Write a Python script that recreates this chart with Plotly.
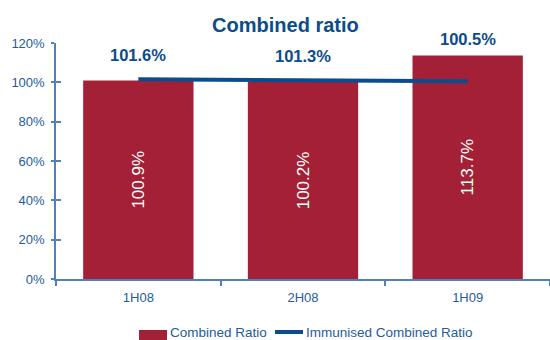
import plotly.graph_objects as go

periods = ["1H08", "2H08", "1H09"]
combined_ratio = [100.9, 100.2, 113.7]
immunised_ratio = [101.6, 101.3, 100.5]
series_names = ["Combined Ratio", "Immunised Combined Ratio"]

BAR_RED = "#A32036"
LINE_BLUE = "#0B4C8C"
AXIS_BLUE = "#4F82BC"
TEXT_BLUE = "#245C9C"
FONT = "Liberation Sans, Arial, sans-serif"

# plot area in pixels (used to place the hand-drawn legend)
W, H = 550, 340
M_L, M_R, M_T, M_B = 56, 0, 43, 61
PLOT_W = W - M_L - M_R
PLOT_H = H - M_T - M_B


def px_x(px):
    return (px - M_L) / PLOT_W


def px_y(py):
    return (H - M_B - py) / PLOT_H


fig = go.Figure()

fig.add_trace(go.Bar(
    x=periods, y=combined_ratio, name=series_names[0],
    marker=dict(color=BAR_RED, line=dict(width=0)),
    width=0.67,
    text=[f"{v:.1f}%" for v in combined_ratio],
    textposition="inside", insidetextanchor="middle", textangle=-90,
    textfont=dict(color="white", size=17, family=FONT),
    hoverinfo="skip", showlegend=False,
))

fig.add_trace(go.Scatter(
    x=periods, y=immunised_ratio, name=series_names[1],
    mode="lines", line=dict(color=LINE_BLUE, width=4),
    hoverinfo="skip", showlegend=False,
))

# invisible trace to activate the overlaid tick axis (crossing ticks)
fig.add_trace(go.Scatter(x=[periods[0]], y=[0], yaxis="y2", mode="markers",
                         marker=dict(opacity=0), showlegend=False,
                         hoverinfo="skip"))

# value labels for the immunised ratio, lifted above whichever mark is taller
for p, b, v in zip(periods, combined_ratio, immunised_ratio):
    top = max(b, v)
    fig.add_annotation(
        x=p, y=top, yref="y", text=f"<b>{v:.1f}%</b>", showarrow=False,
        yanchor="bottom", yshift=13 if top == v else 5,
        font=dict(color=LINE_BLUE, size=16.5, family=FONT),
    )

# legend: wide red key, thick blue line key, labels right after each key
legend_y = px_y(332.5)
fig.add_shape(type="rect", xref="paper", yref="paper",
              x0=px_x(139), x1=px_x(167), y0=px_y(340), y1=px_y(330),
              fillcolor=BAR_RED, line=dict(width=0))
fig.add_annotation(xref="paper", yref="paper", x=px_x(169), y=legend_y,
                   xanchor="left", yanchor="middle", showarrow=False,
                   text=series_names[0], borderpad=0,
                   font=dict(size=13.5, color=TEXT_BLUE, family=FONT))
fig.add_shape(type="line", xref="paper", yref="paper",
              x0=px_x(275), x1=px_x(303), y0=px_y(332), y1=px_y(332),
              line=dict(color=LINE_BLUE, width=4))
fig.add_annotation(xref="paper", yref="paper", x=px_x(305), y=legend_y,
                   xanchor="left", yanchor="middle", showarrow=False,
                   text=series_names[1], borderpad=0,
                   font=dict(size=13.5, color=TEXT_BLUE, family=FONT))

fig.update_layout(
    width=W, height=H,
    margin=dict(l=M_L, r=M_R, t=M_T, b=M_B, autoexpand=False),
    paper_bgcolor="white", plot_bgcolor="white",
    font=dict(family=FONT, color=TEXT_BLUE, size=13),
    title=dict(text="<b>Combined ratio</b>", x=0.519, xanchor="center",
               y=0.926, yanchor="middle",
               font=dict(size=20, color=LINE_BLUE, family=FONT)),
    showlegend=False,
    bargap=0.33,
    xaxis=dict(
        type="category", range=[-0.5, 2.5], showgrid=False,
        showline=True, linecolor=AXIS_BLUE, linewidth=1.5,
        ticks="outside", tickson="boundaries", ticklen=5,
        tickcolor=AXIS_BLUE, tickwidth=1.5, ticklabelstandoff=6,
        tickfont=dict(size=13, color=TEXT_BLUE), zeroline=False,
    ),
    yaxis=dict(
        range=[0, 120], dtick=20, ticksuffix="%", showgrid=False,
        showline=True, linecolor=AXIS_BLUE, linewidth=1.5,
        ticks="outside", ticklen=3, tickcolor=AXIS_BLUE, tickwidth=1.5,
        ticklabelstandoff=4,
        tickfont=dict(size=13, color=TEXT_BLUE), zeroline=False,
    ),
    yaxis2=dict(
        range=[0, 120], dtick=20, overlaying="y", side="left",
        showgrid=False, showline=False, showticklabels=False,
        ticks="inside", ticklen=5, tickcolor=AXIS_BLUE, tickwidth=1.5,
        zeroline=False,
    ),
)

fig.write_html("out.html")
